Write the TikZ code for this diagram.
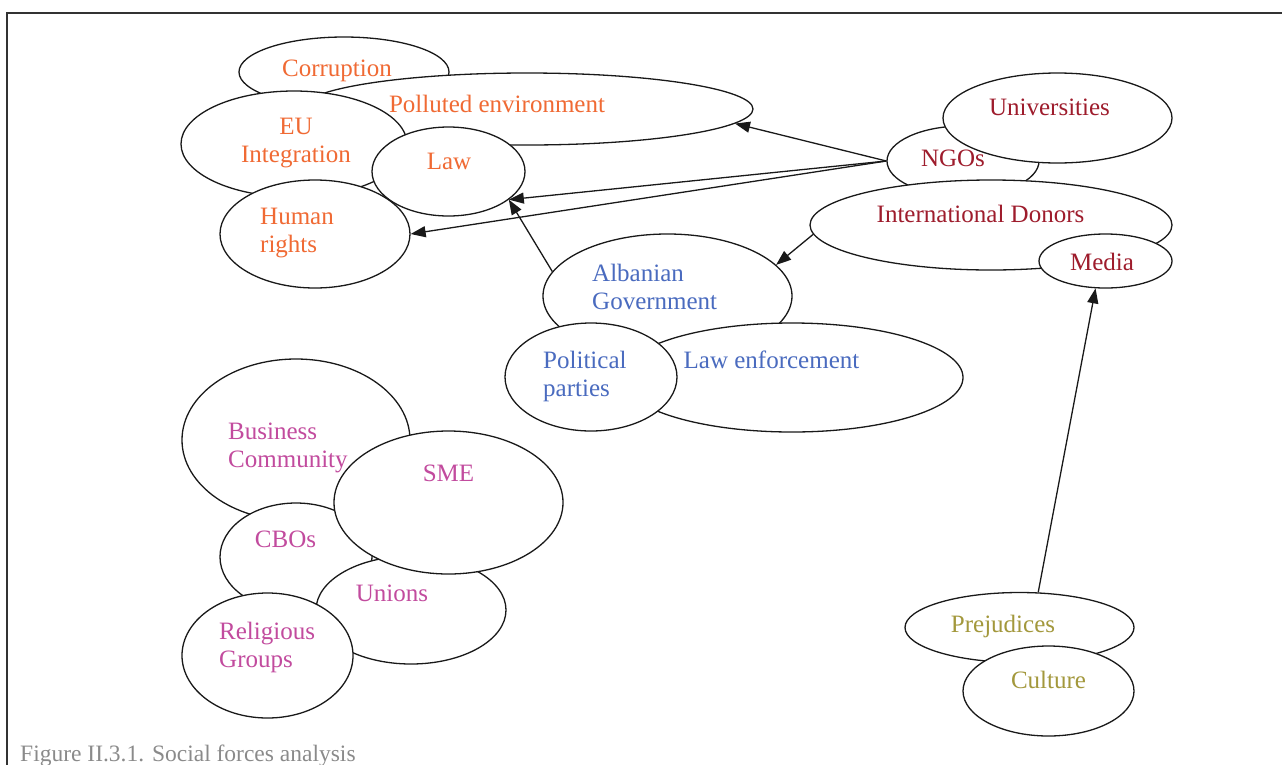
\documentclass[tikz,border=0pt]{standalone}
\usepackage{fontspec}
\setmainfont{Liberation Serif}
\usetikzlibrary{shapes.geometric,arrows.meta}
\definecolor{forceorange}{HTML}{F06A34}
\definecolor{forcered}{HTML}{9E1C2C}
\definecolor{forceblue}{HTML}{4A6BBF}
\definecolor{forcepink}{HTML}{C24B9E}
\definecolor{forceolive}{HTML}{A3983C}
\definecolor{captiongray}{HTML}{8A8A8A}
\begin{document}
\begin{tikzpicture}[x=1pt,y=-1pt,
  bubble/.style 2 args={draw=black!90, ellipse, fill=white, line width=1.3pt,
    inner sep=0pt, minimum width=#1pt, minimum height=#2pt},
  lbl/.style={font=\fontsize{25}{28}\selectfont, inner sep=0pt},
  arr/.style={draw=black!90, line width=1.3pt, -{Triangle[length=15pt,width=11pt]}},
]
\useasboundingbox (0,0) rectangle (1282,764);

% frame
\draw[line width=2.5pt, black!80] (7,800) -- (7,13) -- (1300,13);

% values and issues
\node[bubble={210}{70}]  (corr) at (344,72) {};
\node[bubble={452}{72}]  (pol)  at (527,109) {};
\node[bubble={226}{106}] (eu)   at (294,144) {};
\node[bubble={153}{89}]  (law)  at (448.5,171.5) {};
\node[bubble={190}{108}] (hum)  at (315,234) {};

% civil society and donors
\node[bubble={152}{70}]  (ngo)  at (963,161) {};
\node[bubble={229}{90}]  (uni)  at (1057.5,118) {};
\node[bubble={362}{90}]  (don)  at (991,225) {};
\node[bubble={133}{54}]  (media) at (1105.5,261) {};

% state
\node[bubble={249}{124}] (gov)  at (667.5,296) {};
\node[bubble={342}{109}] (lenf) at (792,377.5) {};
\node[bubble={172}{108}] (part) at (591,377) {};

% economic and community groups
\node[bubble={228}{162}] (bus)  at (296,440) {};
\node[bubble={152}{108}] (cbo)  at (296,557) {};
\node[bubble={190}{108}] (uni2) at (411,610) {};
\node[bubble={171}{125}] (rel)  at (267.5,655.5) {};
\node[bubble={229}{143}] (sme)  at (448.5,502.5) {};

% cultural factors
\node[bubble={229}{70}]  (prej) at (1019.5,627.5) {};
\node[bubble={171}{90}]  (cult) at (1048.5,691) {};

% labels
\node[lbl, text=forceorange, anchor=base] (t-corr) at (337,76.3) {Corruption};
\node[lbl, text=forceorange, anchor=base] (t-pol) at (497,112.3) {Polluted environment};
\node[lbl, text=forceorange, anchor=north, align=center] (t-eu) at (296,118.3) {EU\\Integration};
\node[lbl, text=forceorange, anchor=base] (t-law) at (449,169.3) {Law};
\node[lbl, text=forceorange, anchor=north west, align=left] (t-hum) at (260,208.3) {Human\\rights};

\node[lbl, text=forcered, anchor=base] (t-uni) at (1049.5,115.3) {Universities};
\node[lbl, text=forcered, anchor=base] (t-ngo) at (953,166.3) {NGOs};
\node[lbl, text=forcered, anchor=base] (t-don) at (980.5,222.3) {International Donors};
\node[lbl, text=forcered, anchor=base] (t-media) at (1102,270.3) {Media};

\node[lbl, text=forceblue, anchor=north west, align=left] (t-gov) at (592,264.3) {Albanian\\Government};
\node[lbl, text=forceblue, anchor=north west, align=left] (t-part) at (543,351.3) {Political\\parties};
\node[lbl, text=forceblue, anchor=base] (t-lenf) at (771.5,368.3) {Law enforcement};

\node[lbl, text=forcepink, anchor=north west, align=left] (t-bus) at (228,422.3) {Business\\Community};
\node[lbl, text=forcepink, anchor=base] (t-sme) at (448.5,481.3) {SME};
\node[lbl, text=forcepink, anchor=base] (t-cbo) at (285.5,547.3) {CBOs};
\node[lbl, text=forcepink, anchor=base] (t-unions) at (392,601.3) {Unions};
\node[lbl, text=forcepink, anchor=north west, align=left] (t-rel) at (219,622.3) {Religious\\Groups};

\node[lbl, text=forceolive, anchor=base] (t-prej) at (1003,632.3) {Prejudices};
\node[lbl, text=forceolive, anchor=base] (t-cult) at (1048.5,688.3) {Culture};

% influences
\draw[arr] (ngo.west) -- (pol.-4.5);
\draw[arr] (ngo.west) -- (law.-25);
\draw[arr] (ngo.west) -- (hum.east);
\draw[arr] (gov.168) -- (law.-25);
\draw[arr] (don.183) -- (gov.16);
\draw[arr] (prej.62) -- (media.-110);

% caption
\node[anchor=base west, inner sep=0pt, text=captiongray,
  font=\fontsize{23.5}{28}\selectfont] (caption) at (20,761)
  {Figure II.3.1. Social forces analysis};
\end{tikzpicture}
\end{document}
